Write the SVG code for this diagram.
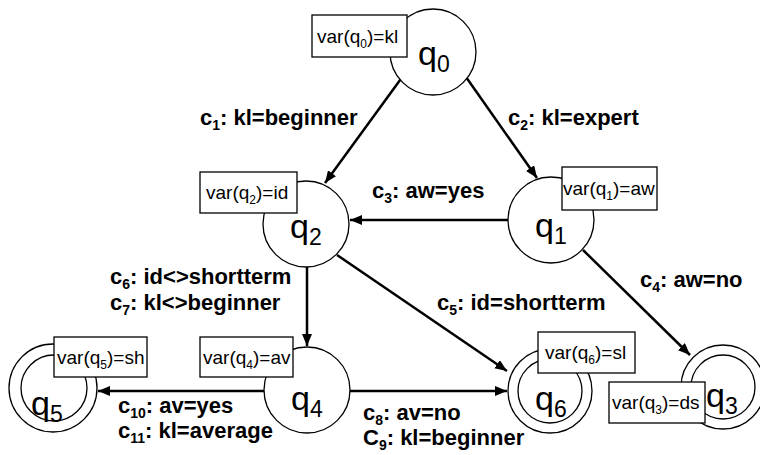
<svg xmlns="http://www.w3.org/2000/svg" width="760" height="455" viewBox="0 0 760 455">
<style>
.st{fill:#fff;stroke:#000;stroke-width:1.3}
.box{fill:#fff;stroke:#000;stroke-width:1.3}
.q{font-family:"Liberation Sans",Arial,sans-serif;font-size:34px;fill:#000}
.qs{font-size:23px}
.v{font-family:"Liberation Sans",Arial,sans-serif;font-size:19px;fill:#000}
.vs{font-size:12px}
.lb{font-family:"Liberation Sans",Arial,sans-serif;font-size:22px;font-weight:bold;fill:#000}
.ls{font-size:14px}
.e{stroke:#000;stroke-width:2.5;fill:none;marker-end:url(#ah)}
</style>
<defs>
<marker id="ah" markerUnits="userSpaceOnUse" markerWidth="13" markerHeight="10" refX="12" refY="5" orient="auto">
<path d="M0,0 L12,5 L0,10 z" fill="#000"/>
</marker>
</defs>
<g id="connectors">
<line class="e" x1="403" y1="76" x2="325" y2="183"/>
<line class="e" x1="466" y1="77" x2="537" y2="178"/>
<line class="e" x1="508" y1="220" x2="350" y2="220"/>
<line class="e" x1="307" y1="267" x2="307" y2="346"/>
<line class="e" x1="337" y1="255" x2="507" y2="371"/>
<line class="e" x1="583" y1="250" x2="690" y2="355"/>
<line class="e" x1="265" y1="391" x2="98" y2="391"/>
<line class="e" x1="349" y1="391" x2="507" y2="391"/>
</g>
<g id="labels">
<text class="lb" x="200" y="125">c<tspan class="ls" dy="5">1</tspan><tspan dy="-5">: kl=beginner</tspan></text>
<text class="lb" x="508" y="125">c<tspan class="ls" dy="5">2</tspan><tspan dy="-5">: kl=expert</tspan></text>
<text class="lb" x="372" y="198">c<tspan class="ls" dy="5">3</tspan><tspan dy="-5">: aw=yes</tspan></text>
<text class="lb" x="640" y="287">c<tspan class="ls" dy="5">4</tspan><tspan dy="-5">: aw=no</tspan></text>
<text class="lb" x="437" y="310">c<tspan class="ls" dy="5">5</tspan><tspan dy="-5">: id=shortterm</tspan></text>
<text class="lb" x="110" y="284">c<tspan class="ls" dy="5">6</tspan><tspan dy="-5">: id&lt;&gt;shortterm</tspan></text>
<text class="lb" x="110" y="310">c<tspan class="ls" dy="5">7</tspan><tspan dy="-5">: kl&lt;&gt;beginner</tspan></text>
<text class="lb" x="363" y="420">c<tspan class="ls" dy="5">8</tspan><tspan dy="-5">: av=no</tspan></text>
<text class="lb" x="363" y="445">C<tspan class="ls" dy="5">9</tspan><tspan dy="-5">: kl=beginner</tspan></text>
<text class="lb" x="118" y="413">c<tspan class="ls" dy="5">10</tspan><tspan dy="-5">: av=yes</tspan></text>
<text class="lb" x="118" y="438">c<tspan class="ls" dy="5">11</tspan><tspan dy="-5">: kl=average</tspan></text>
</g>
<g id="q0">
<circle class="st" cx="433" cy="52" r="43"/>
<text class="q" x="418" y="65">q<tspan class="qs" dy="7">0</tspan></text>
<rect class="box" x="312" y="15" width="95" height="42"/>
<text class="v" x="317" y="43">var(q<tspan class="vs" dy="5">0</tspan><tspan dy="-5">)=kl</tspan></text>
</g>
<g id="q1">
<circle class="st" cx="551" cy="220" r="43"/>
<text class="q" x="535" y="237">q<tspan class="qs" dy="7">1</tspan></text>
<rect class="box" x="562" y="167" width="95" height="43"/>
<text class="v" x="563" y="195">var(q<tspan class="vs" dy="5">1</tspan><tspan dy="-5">)=aw</tspan></text>
</g>
<g id="q2">
<circle class="st" cx="306" cy="224" r="43"/>
<text class="q" x="290" y="238">q<tspan class="qs" dy="7">2</tspan></text>
<rect class="box" x="200" y="172" width="97" height="41"/>
<text class="v" x="206" y="199">var(q<tspan class="vs" dy="5">2</tspan><tspan dy="-5">)=id</tspan></text>
</g>
<g id="q4">
<circle class="st" cx="307" cy="390" r="43"/>
<text class="q" x="291" y="410">q<tspan class="qs" dy="7">4</tspan></text>
<rect class="box" x="200" y="337" width="93" height="40"/>
<text class="v" x="203" y="364">var(q<tspan class="vs" dy="5">4</tspan><tspan dy="-5">)=av</tspan></text>
</g>
<g id="q5">
<circle class="st" cx="53" cy="388" r="44"/>
<circle class="st" cx="54" cy="388" r="33"/>
<text class="q" x="31" y="415">q<tspan class="qs" dy="7">5</tspan></text>
<rect class="box" x="54" y="337" width="93" height="40"/>
<text class="v" x="57" y="364">var(q<tspan class="vs" dy="5">5</tspan><tspan dy="-5">)=sh</tspan></text>
</g>
<g id="q6">
<circle class="st" cx="550" cy="391" r="42"/>
<circle class="st" cx="550" cy="391" r="32"/>
<text class="q" x="535" y="410">q<tspan class="qs" dy="7">6</tspan></text>
<rect class="box" x="538" y="332" width="97" height="41"/>
<text class="v" x="545" y="359">var(q<tspan class="vs" dy="5">6</tspan><tspan dy="-5">)=sl</tspan></text>
</g>
<g id="q3">
<circle class="st" cx="723" cy="387" r="42"/>
<circle class="st" cx="723" cy="387" r="32"/>
<text class="q" x="706" y="407">q<tspan class="qs" dy="7">3</tspan></text>
<rect class="box" x="609" y="382" width="96" height="41"/>
<text class="v" x="612" y="409">var(q<tspan class="vs" dy="5">3</tspan><tspan dy="-5">)=ds</tspan></text>
</g>
</svg>
